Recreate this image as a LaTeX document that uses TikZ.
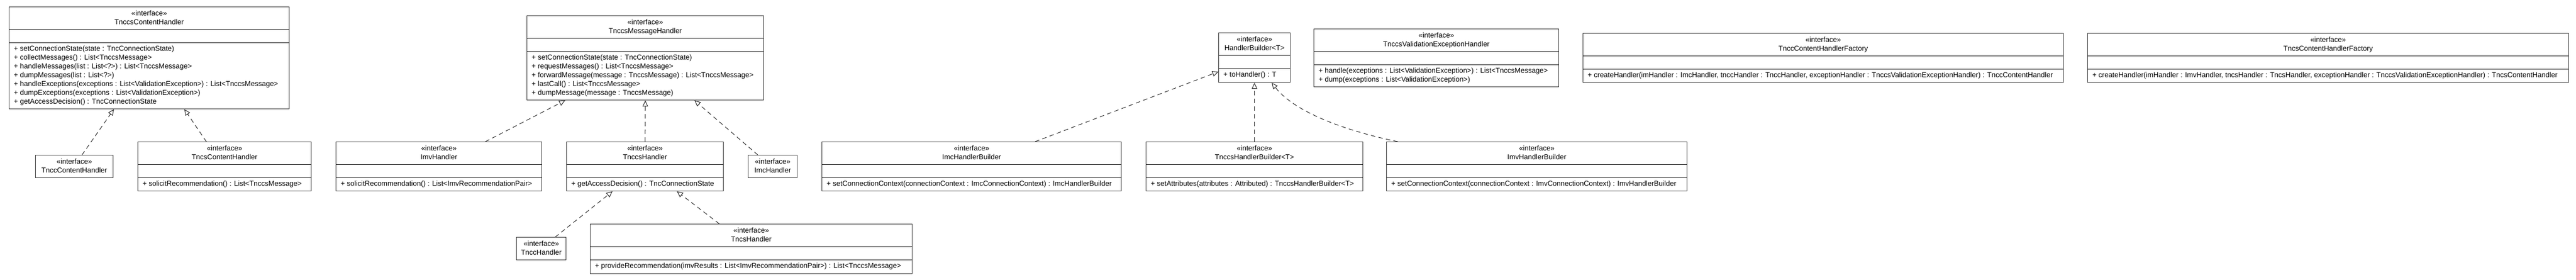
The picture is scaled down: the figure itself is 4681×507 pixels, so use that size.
\documentclass[tikz,border=0pt]{standalone}
\usepackage{fontspec}
\setmainfont{Liberation Sans}
\usetikzlibrary{arrows.meta}

\newcommand{\umlfont}{\fontsize{13}{16}\selectfont}

\tikzset{
  classframe/.style={draw=black!80, line width=1.2pt, fill=white, anchor=north west, inner sep=0pt},
  classline/.style={draw=black!90, line width=1pt},
  classtext/.style={anchor=base, inner sep=0pt, font=\umlfont},
  classop/.style={anchor=base west, inner sep=0pt, font=\umlfont},
  realize/.style={draw=black!85, line width=1pt, dash pattern=on 8pt off 6pt,
    -{Triangle[open, length=11pt, width=10pt, fill=white]}},
}

\begin{document}
\begin{tikzpicture}[x=1pt, y=-1pt]
\def \ymid   {257};
\def \ysmall {281};
\def \yfact  {60};

% interface with name only: name, x, y, width, title
\def\smallclass#1#2#3#4#5{
  \node [classframe, minimum width=#4pt, minimum height=41pt] (#1) at (#2,#3) {};
  \node [classtext] (#1-st) at ([yshift=-16.5pt]#1.north) {«interface»};
  \node [classtext] (#1-name) at ([yshift=-32pt]#1.north) {#5};
}
% interface with compartments: name, x, y, width, height, title, operations
\def\fullclass#1#2#3#4#5#6#7{
  \node [classframe, minimum width=#4pt, minimum height=#5pt] (#1) at (#2,#3) {};
  \node [classtext] (#1-st) at ([yshift=-16.5pt]#1.north) {«interface»};
  \node [classtext] (#1-name) at ([yshift=-32pt]#1.north) {#6};
  \draw [classline] ([yshift=-41pt]#1.north west) -- ([yshift=-41pt]#1.north east);
  \draw [classline] ([yshift=-65pt]#1.north west) -- ([yshift=-65pt]#1.north east);
  \foreach \op [count=\k] in {#7}
    \node [classop] (#1-op\k) at ([xshift=9pt, yshift={-80.5pt-16pt*(\k-1)}]#1.north west) {\op};
}

\fill [white] (0,0) rectangle (4681,507);
\useasboundingbox (0,0) rectangle (4681,507);

% content handlers
\fullclass{tnccsch}{16}{12}{509}{185}{TnccsContentHandler}{
  {+ setConnectionState(state : TncConnectionState)},
  {+ collectMessages() : List<TnccsMessage>},
  {+ handleMessages(list : List<?>) : List<TnccsMessage>},
  {+ dumpMessages(list : List<?>)},
  {+ handleExceptions(exceptions : List<ValidationException>) : List<TnccsMessage>},
  {+ dumpExceptions(exceptions : List<ValidationException>)},
  {+ getAccessDecision() : TncConnectionState}}
\smallclass{tnccch}{64}{\ysmall}{141}{TnccContentHandler}
\fullclass{tncsch}{250}{\ymid}{315}{89}{TncsContentHandler}{
  {+ solicitRecommendation() : List<TnccsMessage>}}

% message handlers
\fullclass{tnccsmh}{957}{28}{430}{153}{TnccsMessageHandler}{
  {+ setConnectionState(state : TncConnectionState)},
  {+ requestMessages() : List<TnccsMessage>},
  {+ forwardMessage(message : TnccsMessage) : List<TnccsMessage>},
  {+ lastCall() : List<TnccsMessage>},
  {+ dumpMessage(message : TnccsMessage)}}
\fullclass{imvh}{610}{\ymid}{374}{89}{ImvHandler}{
  {+ solicitRecommendation() : List<ImvRecommendationPair>}}
\fullclass{tnccsh}{1029}{\ymid}{285}{89}{TnccsHandler}{
  {+ getAccessDecision() : TncConnectionState}}
\smallclass{imch}{1359}{\ysmall}{89}{ImcHandler}
\smallclass{tncch}{938}{430}{90}{TnccHandler}
\fullclass{tncsh}{1072}{406}{585}{90}{TncsHandler}{
  {+ provideRecommendation(imvResults : List<ImvRecommendationPair>) : List<TnccsMessage>}}

% builders
\fullclass{hb}{2214}{59}{130}{90}{HandlerBuilder<T>}{
  {+ toHandler() : T}}
\fullclass{imchb}{1493}{\ymid}{544}{89}{ImcHandlerBuilder}{
  {+ setConnectionContext(connectionContext : ImcConnectionContext) : ImcHandlerBuilder}}
\fullclass{tnccshb}{2082}{\ymid}{394}{89}{TnccsHandlerBuilder<T>}{
  {+ setAttributes(attributes : Attributed) : TnccsHandlerBuilder<T>}}
\fullclass{imvhb}{2519}{\ymid}{546}{89}{ImvHandlerBuilder}{
  {+ setConnectionContext(connectionContext : ImvConnectionContext) : ImvHandlerBuilder}}

% exceptions and factories
\fullclass{tnccsveh}{2387}{52}{445}{105}{TnccsValidationExceptionHandler}{
  {+ handle(exceptions : List<ValidationException>) : List<TnccsMessage>},
  {+ dump(exceptions : List<ValidationException>)}}
\fullclass{tncchf}{2876}{\yfact}{873}{89}{TnccContentHandlerFactory}{
  {+ createHandler(imHandler : ImcHandler, tnccHandler : TnccHandler, exceptionHandler : TnccsValidationExceptionHandler) : TnccContentHandler}}
\fullclass{tncschf}{3793}{\yfact}{874}{89}{TncsContentHandlerFactory}{
  {+ createHandler(imHandler : ImvHandler, tncsHandler : TncsHandler, exceptionHandler : TnccsValidationExceptionHandler) : TncsContentHandler}}

% realizations
\draw [realize] ([xshift=85pt]tnccch.north west) -- ([xshift=191pt]tnccsch.south west);
\draw [realize] ([xshift=125pt]tncsch.north west) -- ([xshift=319pt]tnccsch.south west);
\draw [realize] ([xshift=272pt]imvh.north west) -- ([xshift=70pt]tnccsmh.south west);
\draw [realize] (tnccsh.north) -- (tnccsmh.south);
\draw [realize] ([xshift=18pt]imch.north west) -- ([xshift=305pt]tnccsmh.south west);
\draw [realize] ([xshift=71pt]tncch.north west) -- ([xshift=84pt]tnccsh.south west);
\draw [realize] ([xshift=235pt]tncsh.north west) -- ([xshift=201pt]tnccsh.south west);
\draw [realize] ([xshift=388pt]imchb.north west) -- ([yshift=-71pt]hb.north west);
\draw [realize] (tnccshb.north) -- (hb.south);
\draw [realize] ([xshift=21pt]imvhb.north west) .. controls +(-120,-25) and +(35,45) .. ([xshift=97pt]hb.south west);

\end{tikzpicture}
\end{document}
